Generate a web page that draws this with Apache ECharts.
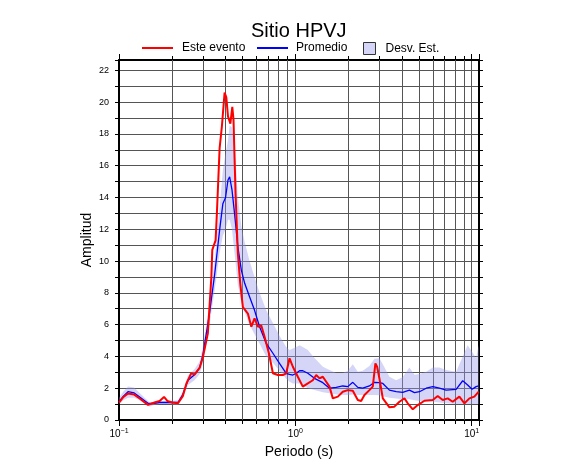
<!DOCTYPE html>
<html><head><meta charset="utf-8">
<script src="https://cdn.jsdelivr.net/npm/echarts@6/dist/echarts.min.js"></script>
<style>html,body{margin:0;padding:0;background:#fff}#c{width:586px;height:475px}</style>
</head><body><div id="c"></div>
<script>
const FONT = '"Liberation Sans", Arial, Helvetica, sans-serif';
const titleText = 'Sitio HPVJ';
const xAxisName = 'Periodo (s)';
const yAxisName = 'Amplitud';
const legendNames = ['Este evento', 'Promedio', 'Desv. Est.'];

// Este evento (red)
const periodsEvent = [0.1,0.106,0.1125,0.122,0.131,0.146,0.149,0.159,0.170,0.180,0.188,0.200,0.216,0.230,0.241,0.257,0.268,0.275,0.287,0.299,0.319,0.334,0.338,0.353,0.359,0.372,0.383,0.397,0.406,0.415,0.428,0.439,0.446,0.458,0.472,0.487,0.504,0.538,0.563,0.587,0.613,0.641,0.669,0.708,0.746,0.796,0.849,0.887,0.927,0.968,1.033,1.102,1.177,1.256,1.313,1.371,1.432,1.496,1.562,1.631,1.742,1.858,1.982,2.117,2.260,2.361,2.465,2.630,2.748,2.844,2.909,2.998,3.133,3.201,3.417,3.645,3.893,4.155,4.339,4.634,4.943,5.395,6.016,6.415,6.852,7.311,7.802,8.511,9.099,9.705,10.35,10.96];
const ampEvent = [1.1,1.45,1.67,1.6,1.35,0.95,0.9,1.1,1.2,1.45,1.2,1.1,1.05,1.5,2.28,2.95,2.85,2.9,3.3,3.95,5.45,9.0,10.7,11.3,13.0,17.1,18.45,20.6,20.3,19.1,18.65,19.7,18.9,14.25,10.5,8.6,7.1,6.7,5.87,6.4,5.87,5.95,5.24,4.2,2.94,2.83,2.83,2.94,3.88,3.35,2.72,2.1,2.3,2.5,2.83,2.62,2.72,2.41,2.1,1.36,1.47,1.78,1.88,1.84,1.26,1.2,1.57,1.88,2.1,3.56,3.35,2.6,1.36,1.26,0.8,0.84,1.15,1.36,1.05,0.67,0.94,1.21,1.26,1.51,1.26,1.36,1.15,1.47,1.05,1.36,1.47,1.78];

// Promedio (blue) and standard-deviation band
const periodsMean = [0.1,0.106,0.1125,0.122,0.131,0.146,0.149,0.159,0.170,0.194,0.216,0.230,0.246,0.268,0.287,0.299,0.326,0.349,0.372,0.388,0.402,0.415,0.424,0.437,0.452,0.472,0.494,0.516,0.550,0.587,0.627,0.684,0.746,0.813,0.887,0.927,0.968,1.012,1.057,1.102,1.177,1.284,1.432,1.562,1.705,1.858,1.982,2.117,2.260,2.411,2.630,2.808,2.998,3.133,3.417,3.730,4.064,4.434,4.736,5.057,5.521,6.016,6.561,7.159,8.160,8.892,9.484,10.05,10.59,10.96];
const ampMean = [1.15,1.5,1.78,1.7,1.45,1.05,0.97,1.05,1.1,1.1,1.1,1.6,2.5,2.85,3.3,4.1,6.7,9.2,11.95,13.6,14.0,15.1,15.3,14.5,13.0,10.9,9.43,8.6,7.75,6.9,5.87,4.82,4.2,3.56,2.94,2.87,2.83,2.94,3.1,3.1,2.94,2.62,2.35,2.0,2.05,2.14,2.1,2.37,2.05,2.0,2.14,2.37,2.35,2.3,1.88,1.78,1.74,1.88,1.72,1.78,2.0,2.1,2.0,1.88,1.93,2.47,2.2,1.93,2.1,2.14];
const bandUpper = [1.4,1.8,2.1,2.05,1.7,1.2,1.1,1.15,1.2,1.2,1.25,1.8,2.8,3.2,3.7,4.6,7.3,10.2,13.4,15.7,16.8,17.6,18.55,18.4,17.4,14.0,12.2,11.2,10.0,9.0,8.0,6.9,6.1,5.3,4.6,4.4,4.5,4.6,4.7,4.6,4.4,3.9,3.35,3.14,2.95,2.95,3.1,3.5,3.04,3.1,3.4,3.85,3.88,3.5,2.72,2.5,2.7,3.3,2.85,2.9,3.04,3.3,3.3,3.14,3.04,4.0,4.7,4.3,3.9,4.72];
const bandLower = [1.0,1.25,1.4,1.4,1.25,0.9,0.85,0.95,1.0,1.0,0.95,1.4,2.2,2.5,2.9,3.6,6.0,8.2,10.5,11.6,12.0,12.6,12.6,12.0,10.5,8.5,7.4,6.8,6.0,5.4,4.8,4.0,3.6,3.1,2.6,2.4,2.3,2.3,2.3,2.2,2.0,1.88,1.75,1.68,1.6,1.57,1.57,1.6,1.57,1.57,1.57,1.57,1.55,1.5,1.4,1.35,1.3,1.3,1.25,1.2,1.2,1.15,1.1,1.05,1.0,1.0,1.0,1.0,1.0,1.0];

// axes
const xMin = 0.1, xMax = 11;
const yMin = 0, yMax = 22.65;
const xMinorTicks = [0.2,0.3,0.4,0.5,0.6,0.7,0.8,0.9,2,3,4,5,6,7,8,9];
const xDecadeLabels = {'-1':'\u22121', '0':'0', '1':'1'};

const chart = echarts.init(document.getElementById('c'), null, {renderer:'canvas'});

const eventData = periodsEvent.map((t,i)=>[t, ampEvent[i]]);
const meanData = periodsMean.map((t,i)=>[t, ampMean[i]]);
const bandData = periodsMean.map((t,i)=>[t, bandLower[i], bandUpper[i]]);

const gridColor = '#555';
const bandFill = 'rgba(150,150,238,0.40)';

function xLabel(v){
  const e = Math.log10(v);
  const r = Math.round(e);
  if (Math.abs(e - r) > 1e-6) return '';
  const s = xDecadeLabels[String(r)];
  if (s === undefined) return '';
  return '{b|10}{s|' + s + '}';
}

const legendText = (pad) => ({fontFamily: FONT, fontSize: 12, color: '#000', padding: [0,0,0,pad]});

const option = {
  animation: false,
  backgroundColor: '#fff',
  textStyle: {fontFamily: FONT},
  title: {
    text: titleText, left: 251, top: 21, padding: 0,
    textStyle: {fontFamily: FONT, fontSize: 20, fontWeight: 'normal', color: '#000'}
  },
  legend: [
    {data: [{name: legendNames[0], icon: 'rect', itemStyle: {color: '#ff0000'}}],
     left: 142, top: 42, padding: 0, itemWidth: 31, itemHeight: 2, selectedMode: false, textStyle: legendText(4)},
    {data: [{name: legendNames[1], icon: 'rect', itemStyle: {color: '#0000ff'}}],
     left: 257, top: 42, padding: 0, itemWidth: 31, itemHeight: 2, selectedMode: false, textStyle: legendText(3)},
    {data: [{name: legendNames[2], icon: 'rect', itemStyle: {color: '#d5d5f7', borderColor: '#333', borderWidth: 1}}],
     left: 363, top: 42, padding: 0, itemWidth: 12, itemHeight: 12, selectedMode: false, textStyle: legendText(5)}
  ],
  grid: {left: 119, right: 107, top: 60, bottom: 55, containLabel: false},
  xAxis: [
    {type: 'log', logBase: 10, min: xMin, max: xMax, position: 'bottom',
     name: xAxisName, nameLocation: 'middle', nameGap: 25, nameMoveOverlap: false,
     nameTextStyle: {fontFamily: FONT, fontSize: 14, color: '#000'},
     axisLine: {show: true, onZero: false, lineStyle: {color: '#000', width: 2}},
     axisTick: {show: true, length: 6, inside: false, lineStyle: {color: '#000', width: 1}},
     axisLabel: {show: true, margin: 8, formatter: xLabel, color: '#000',
       rich: {b: {fontSize: 10, fontFamily: FONT, color: '#000'},
              s: {fontSize: 7, fontFamily: FONT, color: '#000', padding: [0,0,5,0]}}},
     splitLine: {show: true, lineStyle: {color: gridColor, width: 1}}},
    {type: 'log', logBase: 10, min: xMin, max: xMax, position: 'top',
     axisLine: {show: true, onZero: false, lineStyle: {color: '#000', width: 2}},
     axisTick: {show: true, length: 6, lineStyle: {color: '#000', width: 1}},
     axisLabel: {show: false}, splitLine: {show: false}}
  ],
  yAxis: [
    {type: 'value', min: yMin, max: yMax, interval: 1, position: 'left',
     name: yAxisName, nameLocation: 'middle', nameGap: 25, nameMoveOverlap: false,
     nameTextStyle: {fontFamily: FONT, fontSize: 14, color: '#000'},
     axisLine: {show: true, onZero: false, lineStyle: {color: '#000', width: 2}},
     axisTick: {show: true, length: 4, lineStyle: {color: '#000', width: 1}},
     axisLabel: {show: true, margin: 10, fontSize: 9, fontFamily: FONT, color: '#000',
       formatter: v => (Math.abs(v - Math.round(v)) < 1e-6 && Math.round(v) % 2 === 0) ? String(Math.round(v)) : ''},
     splitLine: {show: true, lineStyle: {color: gridColor, width: 1}}},
    {type: 'value', min: yMin, max: yMax, interval: 1, position: 'right',
     axisLine: {show: true, onZero: false, lineStyle: {color: '#000', width: 2}},
     axisTick: {show: true, length: 4, lineStyle: {color: '#000', width: 1}},
     axisLabel: {show: false}, splitLine: {show: false}}
  ],
  series: [
    {type: 'custom', name: 'minorGrid', xAxisIndex: 0, yAxisIndex: 0, silent: true, z: 1,
     encode: {x: 0, y: 1},
     data: xMinorTicks.map(t => [t, 0]),
     renderItem: function(params, api){
       const cs = params.coordSys;
       const x = Math.round(api.coord([api.value(0), 0])[0]) + 0.5;
       const top = cs.y, bot = cs.y + cs.height;
       return {type: 'group', children: [
         {type: 'line', shape: {x1: x, y1: top, x2: x, y2: bot}, style: {stroke: gridColor, lineWidth: 1}},
         {type: 'line', shape: {x1: x, y1: top - 4, x2: x, y2: top}, style: {stroke: '#000', lineWidth: 1}},
         {type: 'line', shape: {x1: x, y1: bot, x2: x, y2: bot + 4}, style: {stroke: '#000', lineWidth: 1}}
       ]};
     }},
    {type: 'custom', name: legendNames[2], xAxisIndex: 0, yAxisIndex: 0, silent: true, z: 2,
     encode: {x: 0, y: [1, 2]},
     itemStyle: {color: '#d5d5f7'},
     data: bandData,
     renderItem: function(params, api){
       if (params.dataIndexInside !== 0) return null;
       const n = params.dataInsideLength;
       const up = [], lo = [];
       for (let i = 0; i < n; i++) {
         const t = api.value(0, i);
         up.push(api.coord([t, api.value(2, i)]));
         lo.push(api.coord([t, api.value(1, i)]));
       }
       return {type: 'polygon', shape: {points: up.concat(lo.reverse())}, style: {fill: bandFill}};
     }},
    {type: 'line', name: legendNames[1], data: meanData, symbol: 'none', z: 3,
     itemStyle: {color: '#0000ff'}, lineStyle: {color: '#0000ff', width: 1.3}},
    {type: 'line', name: legendNames[0], data: eventData, symbol: 'none', z: 4,
     itemStyle: {color: '#ff0000'}, lineStyle: {color: '#ff0000', width: 2}}
  ]
};
chart.setOption(option);
</script></body></html>
